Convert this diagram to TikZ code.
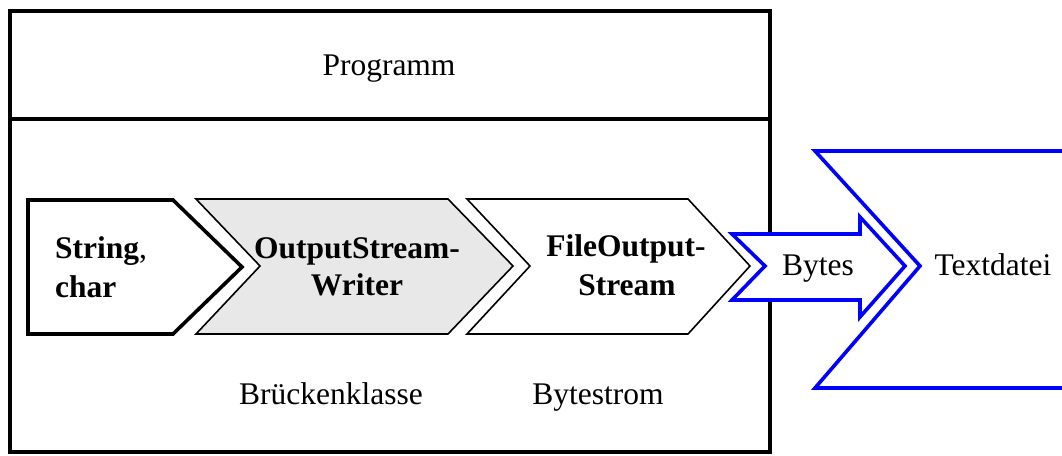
\documentclass[tikz,border=0pt]{standalone}
\usepackage{fontspec}
\setmainfont{Liberation Serif}
\begin{document}
\begin{tikzpicture}[x={(1pt,0)},y={(0,-1pt)},
  txt/.style={inner sep=0pt,anchor=base,font=\fontsize{31.5}{38}\selectfont},
  btxt/.style={txt,font=\fontsize{31.5}{38}\selectfont\bfseries},
  thickblack/.style={draw=black,line width=3.6pt},
  thinblack/.style={draw=black,line width=1.6pt,line join=miter},
  bluel/.style={draw=blue,line width=3.6pt,line join=miter}]
\useasboundingbox (0,0) rectangle (1062,455);
% program box
\draw[thickblack] (10,11) rectangle (770,452);
\draw[thickblack] (10,119) -- (770,119);
\node[txt] (prog) at (389,75) {Programm};
% chevrons
\draw[thinblack,fill=white] (467,199) -- (688,199) -- (750,266) -- (688,334) -- (467,334) -- (530,266) -- cycle;
\draw[thinblack,fill=black!9] (196,199) -- (448,199) -- (513,266) -- (448,334) -- (196,334) -- (260,266) -- cycle;
\draw[thickblack,fill=white,line join=miter] (28,200) -- (173,200) -- (242,267) -- (173,334) -- (28,334) -- cycle;
\node[txt,anchor=base west] (s1) at (55,258) {\textbf{String},};
\node[btxt,anchor=base west] (s2) at (55,297) {char};
\node[btxt] (o1) at (357,258) {OutputStream-};
\node[btxt] (o2) at (357,295) {Writer};
\node[btxt] (f1) at (626,256) {FileOutput-};
\node[btxt] (f2) at (627,295) {Stream};
\node[txt] (bk) at (331,404) {Brückenklasse};
\node[txt] (bs) at (598,404) {Bytestrom};
% bytes arrow
\draw[bluel,fill=white] (732,234) -- (860,234) -- (860,217) -- (905,266) -- (860,317) -- (860,300) -- (732,300) -- (765,266) -- cycle;
\node[txt] (bytes) at (818,275) {Bytes};
% text file
\draw[bluel] (1070,151) -- (815,151) -- (920,266) -- (815,388) -- (1070,388);
\node[txt] (td) at (993,275) {Textdatei};
\end{tikzpicture}
\end{document}
